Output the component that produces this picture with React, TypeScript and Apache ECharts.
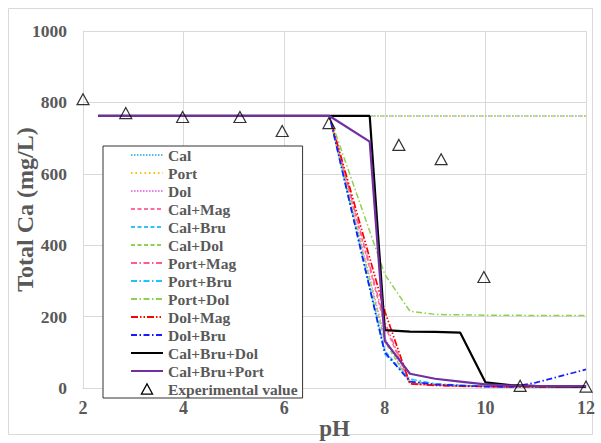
import React, { useEffect, useRef } from "react";
import * as echarts from "echarts";

const pH = [2.3, 6.9, 7.7, 8.0, 8.5, 9.0, 9.5, 10.0, 10.5, 11.0, 12.0];
const cal = [762, 762, 762, 762, 762, 762, 762, 762, 762, 762, 762];
const port = [762, 762, 762, 762, 762, 762, 762, 762, 762, 762, 762];
const dol = [762, 762, null, 140, 14, 8, 6, 4, 3, 3, 3];
const calMag = [762, 762, null, 175, 12, 8, 6, 5, 4, 3, 3];
const calBru = [762, 762, null, 105, 20, 10, 7, 5, 4, 3, 3];
const calDol = [762, 762, null, 130, 15, 9, 6, 5, 4, 3, 3];
const portMag = [762, 762, null, 185, 14, 8, 6, 5, 4, 3, 3];
const portBru = [762, 762, null, 95, 25, 12, 8, 5, 4, 3, 3];
const portDol = [762, 762, null, 318, 215, 206, 205, 204, 204, 203, 203];
const dolMag = [762, 762, null, 215, 12, 7, 5, 4, 3, 3, 3];
const dolBru = [762, 762, null, 100, 18, 10, 7, 4, 3, 15, 52];
const calBruDol = [762, 762, 762, 162, 158, 157, 155, 16, 8, 5, 4];
const calBruPort = [762, 762, 690, 132, 40, 26, 18, 10, 7, 6, 5];

const expPH = [2.0, 2.85, 3.98, 5.12, 5.96, 6.89, 8.28, 9.12, 9.97, 10.69, 12.0];
const expCa = [809, 770, 759, 759, 720, 742, 681, 641, 311, 6, 4];

const FONT = "Liberation Serif";
const GRAY = "#595959";

const dotted = [1.5, 1.5];
const dashed = [4, 2.5];
const dashDot = [6, 2.5, 1.5, 2.5];
const dashDotDot = [7, 2, 1.5, 2, 1.5, 2];

const lineDefs = [
  { name: "Cal", data: cal, color: "#4fc0f0", type: dotted, width: 1.6 },
  { name: "Port", data: port, color: "#ffc000", type: [1.5, 3], width: 1.5 },
  { name: "Dol", data: dol, color: "#e87ce8", type: dotted, width: 1.5 },
  { name: "Cal+Mag", data: calMag, color: "#ff6f9c", type: dashed, width: 1.5 },
  { name: "Cal+Bru", data: calBru, color: "#33c3f5", type: dashed, width: 1.5 },
  { name: "Cal+Dol", data: calDol, color: "#92d050", type: dashed, width: 1.5 },
  { name: "Port+Mag", data: portMag, color: "#ff5b8c", type: dashDot, width: 1.5 },
  { name: "Port+Bru", data: portBru, color: "#1fc1ff", type: dashDot, width: 1.5 },
  { name: "Port+Dol", data: portDol, color: "#8fd14f", type: dashDot, width: 1.5 },
  { name: "Dol+Mag", data: dolMag, color: "#ff0000", type: dashDotDot, width: 1.7 },
  { name: "Dol+Bru", data: dolBru, color: "#1a1aff", type: dashDot, width: 1.7 },
  { name: "Cal+Bru+Dol", data: calBruDol, color: "#000000", type: "solid", width: 2.2 },
  { name: "Cal+Bru+Port", data: calBruPort, color: "#7030a0", type: "solid", width: 2.2 },
];

const TRI_ICON = "path://M-2,-2 M0,11 L6,0 L12,11 Z M14,13";

export default function App() {
  const ref = useRef<HTMLDivElement>(null);
  useEffect(() => {
    if (!ref.current) return;
    const chart = echarts.init(ref.current, null, { renderer: "svg" });
    const series: any[] = lineDefs.map((d) => ({
      name: d.name,
      type: "line",
      data: pH.map((x, i) => [x, d.data[i]]),
      symbol: "none",
      connectNulls: true,
      lineStyle: { color: d.color, type: d.type, width: d.width },
      itemStyle: { color: d.color },
    }));
    series.push({
      name: "Experimental value",
      type: "scatter",
      data: expPH.map((x, i) => [x, expCa[i]]),
      symbol: "triangle",
      symbolSize: [12, 11],
      itemStyle: { color: "rgba(255,255,255,0)", borderColor: "#000", borderWidth: 1.2 },
      z: 5,
    });
    chart.setOption({
      animation: false,
      backgroundColor: "#fff",
      graphic: [
        {
          type: "rect",
          shape: { x: 8.5, y: 8.5, width: 584, height: 426 },
          style: { fill: "none", stroke: "#d9d9d9", lineWidth: 1 },
          silent: true,
        },
      ],
      grid: { left: 83, right: 15, top: 31, bottom: 55, outerBoundsMode: "none", containLabel: false },
      legend: {
        orient: "vertical",
        left: 103,
        top: 146,
        padding: [1, 5, 1, 27],
        itemWidth: 32,
        itemHeight: 14,
        itemGap: 2,
        backgroundColor: "#fff",
        borderColor: "#333",
        borderWidth: 1,
        textStyle: { fontFamily: FONT, fontWeight: "bold", fontSize: 15.5, color: GRAY, lineHeight: 16 },
        data: [
          ...lineDefs.map((d) => ({ name: d.name, itemStyle: { opacity: 0 } })),
          {
            name: "Experimental value",
            icon: TRI_ICON,
            itemStyle: { color: "rgba(255,255,255,0)", borderColor: "#000", borderWidth: 1.2, opacity: 1 },
          },
        ],
      },
      xAxis: {
        type: "value",
        min: 2,
        max: 12,
        interval: 2,
        name: "pH",
        nameLocation: "middle",
        nameGap: 29,
        nameMoveOverlap: false,
        nameTextStyle: { fontFamily: FONT, fontWeight: "bold", fontSize: 23, color: GRAY },
        axisLine: { show: true, lineStyle: { color: "#d9d9d9" } },
        axisTick: { show: false },
        axisLabel: { fontFamily: FONT, fontWeight: "bold", fontSize: 18, color: GRAY, margin: 11 },
        splitLine: { show: true, lineStyle: { color: "#d9d9d9" } },
      },
      yAxis: {
        type: "value",
        min: 0,
        max: 1000,
        interval: 200,
        name: "Total Ca (mg/L)",
        nameLocation: "middle",
        nameGap: 46,
        nameMoveOverlap: false,
        nameTextStyle: { fontFamily: FONT, fontWeight: "bold", fontSize: 24, color: GRAY },
        axisLine: { show: true, lineStyle: { color: "#d9d9d9" } },
        axisTick: { show: false },
        axisLabel: {
          fontFamily: FONT,
          fontWeight: "bold",
          fontSize: 17.5,
          color: GRAY,
          margin: 16,
          formatter: (v: number) => String(v),
        },
        splitLine: { show: true, lineStyle: { color: "#d9d9d9" } },
      },
      series,
    });
    return () => chart.dispose();
  }, []);
  return (
    <div
      ref={ref}
      style={{ position: "absolute", left: 0, top: 0, width: 601, height: 443 }}
    />
  );
}
